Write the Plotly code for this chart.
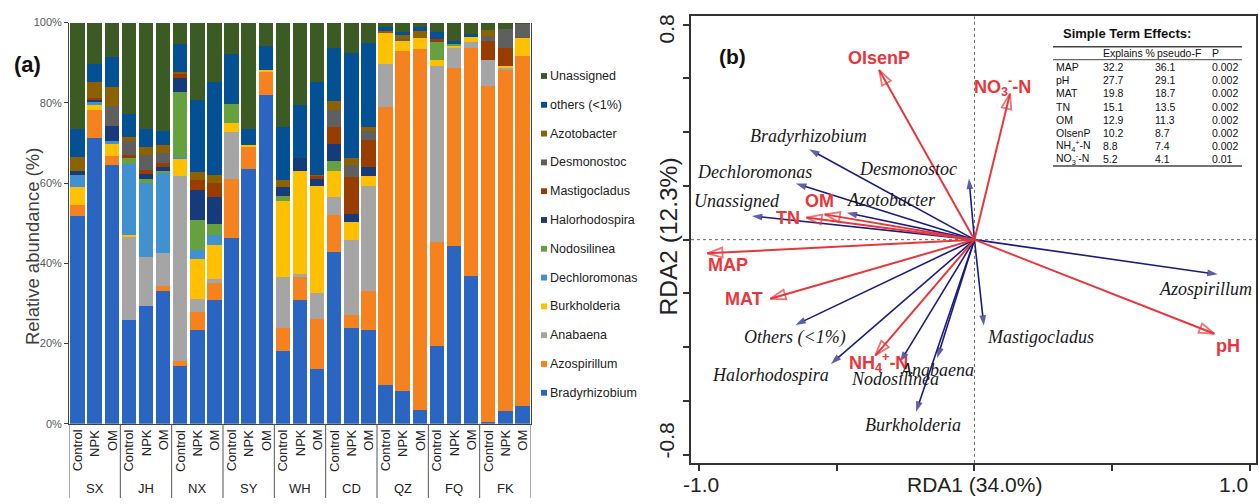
import plotly.graph_objects as go

W, H = 1259, 504

# ---------------- data: panel (a) ----------------
sites = ["SX", "JH", "NX", "SY", "WH", "CD", "QZ", "FQ", "FK"]
treatments = ["Control", "NPK", "OM"]

bradyrhizobium = [51.7, 71.3, 64.5, 25.8, 29.3, 33.1, 14.4, 23.4, 30.8, 46.3, 63.5, 81.9, 18.1, 30.9, 13.6, 42.8, 23.9, 23.5, 9.6, 8.1, 3.5, 19.5, 44.3, 36.9, 0.5, 3.1, 4.5]
azospirillum = [2.9, 6.8, 2.2, 0, 0, 1.2, 1.3, 4.4, 4.3, 14.6, 5.7, 5.9, 5.8, 5.7, 12.6, 9.3, 3.1, 9.6, 69.3, 84.8, 90.0, 25.9, 44.3, 56.8, 83.7, 85.0, 87.1]
anabaena = [0, 0, 0, 21.1, 12.3, 8.3, 46.0, 3.4, 1.0, 11.8, 0, 0, 12.7, 0.7, 6.5, 4.5, 18.8, 26.1, 10.8, 0, 0, 43.8, 5.1, 1.4, 6.6, 0.5, 0]
burkholderia = [4.4, 1.4, 3.1, 0.2, 0, 0, 4.5, 9.8, 8.5, 2.3, 0.4, 0.4, 19.0, 25.6, 26.5, 6.5, 4.5, 2.5, 7.7, 2.6, 2.7, 1.5, 0.5, 1.2, 0, 0.5, 4.5]
dechloromonas = [2.9, 0.6, 0.8, 17.6, 18.5, 19.8, 0.4, 2.2, 2.5, 0, 0, 0, 0, 0, 0, 0, 0, 0, 0, 0, 0, 0, 0, 0, 0, 0, 0]
nodosilinea = [0, 0, 0, 1.6, 1.0, 0.5, 16.0, 7.7, 2.8, 4.7, 0, 0, 1.2, 0, 0, 2.3, 0, 0, 0, 0, 0, 4.4, 0.5, 0, 0, 0, 0]
halorhodospira = [1.0, 0.8, 3.6, 0, 1.1, 1.1, 3.5, 7.3, 6.6, 0, 0, 0, 2.2, 3.3, 1.9, 4.3, 2.1, 2.2, 0, 0, 0, 0, 0, 0, 0, 0, 0]
mastigocladus = [0, 0.4, 0, 0.6, 1.1, 1.1, 1.3, 2.6, 3.6, 0, 0, 0, 0, 0, 0.8, 4.3, 9.1, 6.9, 0, 0, 0, 0.7, 0, 0, 4.6, 4.6, 0]
desmonostoc = [0, 0, 4.9, 3.5, 3.8, 2.5, 0, 0, 0, 0, 0, 0, 0, 0, 0, 4.3, 3.1, 2.3, 0, 0.5, 0, 0, 0, 0, 1.2, 4.8, 3.7]
azotobacter = [3.7, 3.9, 4.8, 1.2, 1.9, 2.0, 0.4, 1.9, 1.9, 0, 0, 0, 1.7, 0, 0.2, 2.1, 1.7, 0.8, 0.6, 0.9, 1.8, 0, 0, 0, 1.6, 0, 0]
others = [6.8, 4.4, 7.5, 5.7, 4.5, 3.4, 6.8, 18.0, 23.2, 12.4, 3.8, 6.0, 13.3, 13.2, 23.1, 13.3, 26.1, 21.1, 0.8, 0.7, 0.8, 1.9, 0.8, 0.8, 0, 0, 0]
unassigned = [26.6, 10.4, 8.6, 22.7, 26.5, 27.0, 5.4, 19.3, 14.8, 7.9, 26.6, 5.8, 26.0, 20.6, 14.8, 6.3, 7.6, 5.0, 1.2, 2.4, 1.2, 2.3, 4.5, 2.9, 1.8, 1.5, 0.2]

taxa_names = ["Bradyrhizobium", "Azospirillum", "Anabaena", "Burkholderia", "Dechloromonas",
              "Nodosilinea", "Halorhodospira", "Mastigocladus", "Desmonostoc", "Azotobacter",
              "others (&lt;1%)", "Unassigned"]
taxa_values = [bradyrhizobium, azospirillum, anabaena, burkholderia, dechloromonas, nodosilinea,
               halorhodospira, mastigocladus, desmonostoc, azotobacter, others, unassigned]
taxa_colors = ["#2a66c1", "#f5821f", "#a5a5a5", "#ffc000", "#4190d0", "#67a13f",
               "#153b7a", "#983c00", "#5f5f5f", "#8c6100", "#045094", "#3c5b24"]

# ---------------- data: panel (b) ----------------
env_names = ["OlsenP", "NO<sub>3</sub><sup>-</sup>-N", "OM", "TN", "MAP", "MAT", "NH<sub>4</sub><sup>+</sup>-N", "pH"]
env_x = [-0.346, 0.129, -0.544, -0.610, -0.970, -0.741, -0.360, 0.871]
env_y = [0.631, 0.543, 0.094, 0.082, -0.051, -0.220, -0.431, -0.350]
env_lab_x = [-0.346, 0.100, -0.563, -0.676, -0.895, -0.837, -0.347, 0.920]
env_lab_y = [0.675, 0.568, 0.143, 0.080, -0.096, -0.220, -0.456, -0.395]

sp_names = ["Bradyrhizobium", "Dechloromonas", "Unassigned", "Azotobacter", "Desmonostoc",
            "Others (&lt;1%)", "Halorhodospira", "Nodosilinea", "Anabaena", "Burkholderia",
            "Mastigocladus", "Azospirillum"]
sp_x = [-0.600, -0.648, -0.808, -0.464, -0.020, -0.650, -0.521, -0.270, -0.135, -0.212, 0.034, 0.883]
sp_y = [0.336, 0.209, 0.088, 0.100, 0.227, -0.317, -0.462, -0.455, -0.440, -0.640, -0.320, -0.129]
sp_lab_x = [-0.603, -0.797, -0.863, -0.301, -0.240, -0.652, -0.742, -0.289, -0.136, -0.222, 0.238, 0.837]
sp_lab_y = [0.385, 0.252, 0.143, 0.146, 0.264, -0.362, -0.503, -0.517, -0.485, -0.689, -0.362, -0.184]

tbl_terms = ["MAP", "pH", "MAT", "TN", "OM", "OlsenP", "NH<sub>4</sub><sup>+</sup>-N", "NO<sub>3</sub><sup>-</sup>-N"]
tbl_explains = ["32.2", "27.7", "19.8", "15.1", "12.9", "10.2", "8.8", "5.2"]
tbl_pseudoF = ["36.1", "29.1", "18.7", "13.5", "11.3", "8.7", "7.4", "4.1"]
tbl_p = ["0.002", "0.002", "0.002", "0.002", "0.002", "0.002", "0.002", "0.01"]

# ---------------- helpers ----------------
def px(x):
    return x / W

def py(y):
    return 1 - y / H

SANS = "Liberation Sans, Arial, sans-serif"
SERIF = "Liberation Serif, Times New Roman, serif"
RED = "#e8363a"
NAVY = "#1b1c7e"

fig = go.Figure()

n_bars = len(sites) * len(treatments)
bar_x = list(range(n_bars))
bar_labels = [f"{s} {t}" for s in sites for t in treatments]

for name, vals, col in zip(taxa_names, taxa_values, taxa_colors):
    fig.add_trace(go.Bar(x=bar_x, y=vals, name=name, marker=dict(color=col, line=dict(width=0)),
                         hovertext=bar_labels, xaxis="x", yaxis="y", showlegend=False))

# species arrows (filled heads)
for nm, tx, ty in zip(sp_names, sp_x, sp_y):
    fig.add_trace(go.Scatter(x=[0, tx], y=[0, ty], mode="lines+markers", xaxis="x2", yaxis="y2",
                             line=dict(color=NAVY, width=1.6),
                             marker=dict(symbol="arrow", size=[0, 11], color=NAVY, angleref="previous",
                                         line=dict(width=0)),
                             showlegend=False, hoverinfo="skip"))
# environmental arrows (open heads)
for nm, tx, ty in zip(env_names, env_x, env_y):
    fig.add_trace(go.Scatter(x=[0, tx], y=[0, ty], mode="lines+markers", xaxis="x2", yaxis="y2",
                             line=dict(color=RED, width=2),
                             marker=dict(symbol="arrow-open", size=[0, 16], color=RED, angleref="previous",
                                         line=dict(width=1.8, color=RED)),
                             showlegend=False, hoverinfo="skip"))

ann = []
shapes = []

def pann(text, x, y, size, color="#222", family=SANS, xanchor="center", yanchor="middle", angle=0):
    ann.append(dict(text=text, x=px(x), y=py(y), xref="paper", yref="paper", xanchor=xanchor,
                    yanchor=yanchor, textangle=angle, showarrow=False,
                    font=dict(family=family, size=size, color=color)))

# ---- panel (a) annotations ----
for i in bar_x:
    ann.append(dict(text=treatments[i % 3], x=i, xref="x", y=py(432), yref="paper",
                    textangle=-90, xanchor="center", yanchor="top", showarrow=False,
                    font=dict(family=SANS, size=13, color="#222")))
for j, s in enumerate(sites):
    ann.append(dict(text=s, x=3 * j + 1, xref="x", y=py(494), yref="paper", xanchor="center",
                    yanchor="middle", showarrow=False, font=dict(family=SANS, size=13, color="#222")))
# group dividers
for j in range(len(sites) + 1):
    shapes.append(dict(type="line", xref="x", yref="paper", x0=3 * j - 0.5, x1=3 * j - 0.5,
                       y0=0, y1=py(428), line=dict(color="#555", width=1)))

pann("<b>(a)</b>", 27, 60, 22, "#111")
pann("Relative abundance (%)", 32, 247, 18.5, "#404040", angle=-90)

# custom legend
leg_names = list(reversed(taxa_names))
leg_colors = list(reversed(taxa_colors))
for k, (nm, col) in enumerate(zip(leg_names, leg_colors)):
    yc = 71.7 + k * 29.5
    shapes.append(dict(type="rect", xref="paper", yref="paper", x0=px(541), x1=px(547),
                       y0=py(yc + 3), y1=py(yc - 3), fillcolor=col, line=dict(width=0)))
    pann(nm, 548, yc, 12.5, "#222", xanchor="left")

# ---- panel (b) annotations ----
for nm, lx, ly in zip(env_names, env_lab_x, env_lab_y):
    ann.append(dict(text=f"<b>{nm}</b>", x=lx, y=ly, xref="x2", yref="y2", showarrow=False,
                    xanchor="center", yanchor="middle", font=dict(family=SANS, size=18, color=RED)))
for nm, lx, ly in zip(sp_names, sp_lab_x, sp_lab_y):
    ann.append(dict(text=f"<i>{nm}</i>", x=lx, y=ly, xref="x2", yref="y2", showarrow=False,
                    xanchor="center", yanchor="middle", font=dict(family=SERIF, size=18, color="#1a1a1a")))

pann("<b>(b)</b>", 732, 52, 21, "#111")
pann("RDA2 (12.3%)", 668, 236, 24.5, "#222", angle=-90)
pann("0.8", 666, 24, 21, "#222", angle=-90)
pann("-0.8", 666, 445, 21, "#222", angle=-90)
pann("-1.0", 701, 490, 21, "#222")
pann("RDA1 (34.0%)", 975, 490, 21, "#222")
pann("1.0", 1233, 490, 21, "#222")

# dotted zero lines
shapes.append(dict(type="line", xref="x2", yref="y2 domain", x0=0, x1=0, y0=0, y1=1,
                   line=dict(color="#666", width=1, dash="dot")))
shapes.append(dict(type="line", xref="x2 domain", yref="y2", x0=0, x1=1, y0=0, y1=0,
                   line=dict(color="#666", width=1, dash="dot")))

# table
pann("<b>Simple Term Effects:</b>", 1061, 28, 13, "#111", xanchor="left")
for txt, cx in zip(["Explains %", "pseudo-F", "P"], [1101, 1155, 1210]):
    pann(txt, cx, 48.3, 10.5, "#111", xanchor="left")
for r, (t, e, f, p) in enumerate(zip(tbl_terms, tbl_explains, tbl_pseudoF, tbl_p)):
    yy = 62.5 + r * 13.5
    for txt, cx in zip([t, e, f, p], [1054, 1101, 1153, 1210]):
        pann(txt, cx, yy, 10.5, "#111", xanchor="left")
for yy, lw in [(41.7, 1.5), (55, 1), (164, 1.5)]:
    shapes.append(dict(type="line", xref="paper", yref="paper", x0=px(1053), x1=px(1242),
                       y0=py(yy), y1=py(yy), line=dict(color="#444", width=lw)))

fig.update_layout(
    width=W, height=H, margin=dict(l=0, r=0, t=0, b=0),
    paper_bgcolor="white", plot_bgcolor="white",
    barmode="stack", bargap=0.16,
    font=dict(family=SANS, color="#222"),
    xaxis=dict(domain=[px(69), px(531)], range=[-0.5, n_bars - 0.5], showticklabels=False,
               ticks="", showgrid=False, zeroline=False, showline=True, linecolor="#404040", linewidth=1),
    yaxis=dict(domain=[py(428), py(17)], range=[0, 100], tickvals=[0, 20, 40, 60, 80, 100],
               ticktext=["0%", "20%", "40%", "60%", "80%", "100%"], ticks="outside", ticklen=4,
               tickcolor="#404040", showgrid=False, zeroline=False, showline=True, linecolor="#404040",
               linewidth=1, mirror=True, tickfont=dict(family=SANS, size=11, color="#595959")),
    xaxis2=dict(domain=[px(691), px(1256)], range=[-1.029, 1.022], anchor="y2",
                tickvals=[-1, -0.5, 0, 0.5, 1], showticklabels=False, ticks="outside", ticklen=6,
                tickwidth=1.5, tickcolor="#333", showgrid=False, zeroline=False, showline=True,
                linecolor="#333", linewidth=1.5, mirror=True),
    yaxis2=dict(domain=[py(468), py(10.7)], range=[-0.830, 0.830], anchor="x2",
                tickvals=[-0.8, -0.6, -0.4, -0.2, 0, 0.2, 0.4, 0.6, 0.8], showticklabels=False,
                ticks="outside", ticklen=6, tickwidth=1.5, tickcolor="#333", showgrid=False,
                zeroline=False, showline=True, linecolor="#333", linewidth=1.5, mirror=True),
    annotations=ann, shapes=shapes,
)

fig.write_html("out.html", config={"displayModeBar": False},
               post_script="document.body.style.margin='0';document.body.style.overflow='hidden';")
